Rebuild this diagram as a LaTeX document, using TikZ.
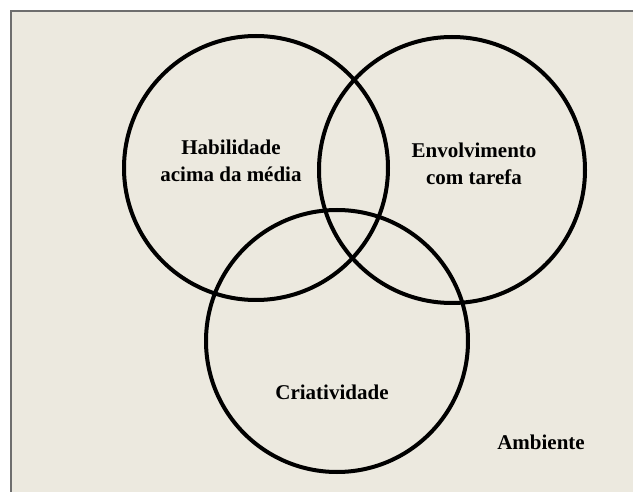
\documentclass[tikz,border=0pt]{standalone}
\usepackage{fontspec}
\setmainfont{Liberation Serif}
\definecolor{bgc}{HTML}{ECE9DF}
\definecolor{framec}{HTML}{6E6E6E}
\begin{document}
\begin{tikzpicture}[x=1pt,y=-1pt,
  ring/.style={draw=black,line width=4pt},
  lbl/.style={font=\bfseries\fontsize{21}{27}\selectfont,align=center,inner sep=0pt}]
\useasboundingbox (0,0) rectangle (633,492);
\fill[white] (0,0) rectangle (633,492);
\fill[bgc] (11,11) rectangle (633,492);
\draw[framec,line width=2pt] (11,492) -- (11,11) -- (633,11);
\node[ring,circle,minimum size=264pt,inner sep=0pt] (hab) at (256,168) {};
\node[ring,circle,minimum size=266pt,inner sep=0pt] (env) at (452,170) {};
\node[ring,circle,minimum size=262pt,inner sep=0pt] (cri) at (337,341) {};
\node[lbl] (tHab) at (231,161) {Habilidade\\acima da média};
\node[lbl] (tEnv) at (474,164) {Envolvimento\\com tarefa};
\node[lbl] (tCri) at (332,392) {Criatividade};
\node[lbl] (tAmb) at (541,442) {Ambiente};
\end{tikzpicture}
\end{document}
